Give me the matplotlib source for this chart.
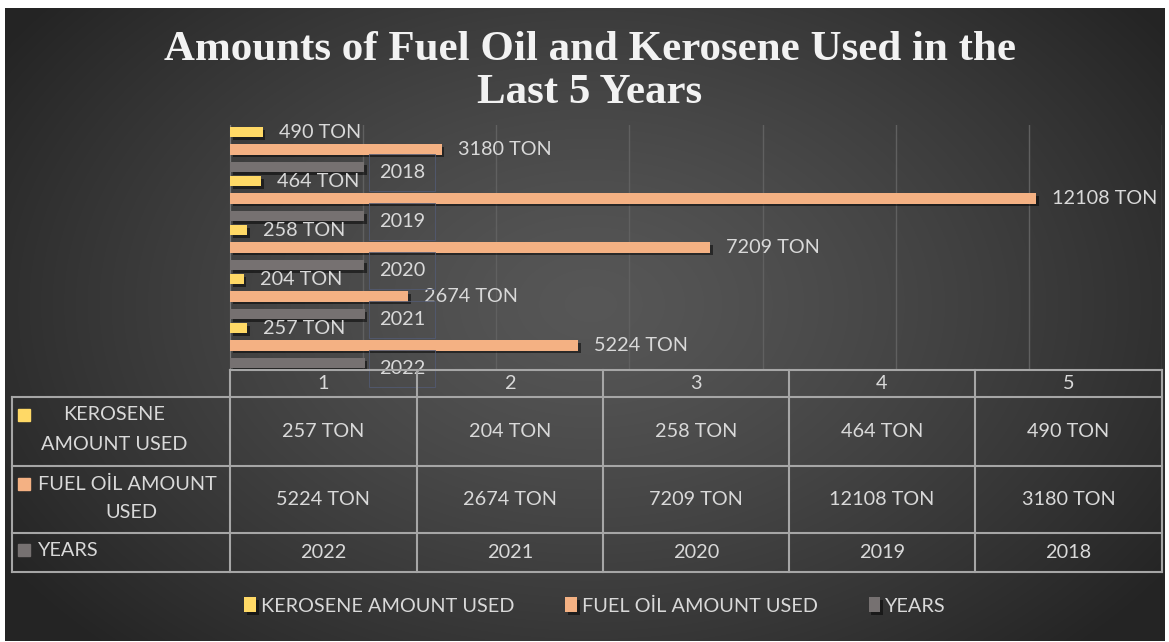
import numpy as np
import matplotlib
matplotlib.use("Agg")
from matplotlib import pyplot as plt
from matplotlib import patheffects as pe
from matplotlib.patches import Rectangle

# data (category 1 at the bottom)
categories = ["1", "2", "3", "4", "5"]
kerosene = [257, 204, 258, 464, 490]
fuel_oil = [5224, 2674, 7209, 12108, 3180]
years = [2022, 2021, 2020, 2019, 2018]
series_names = ["KEROSENE AMOUNT USED", "FUEL OİL AMOUNT USED", "YEARS"]

c_ker = "#FFD966"
c_fuel = "#F4B183"
c_year = "#767171"
txt = "#D9D9D9"
body_font = "Lato"
fs = 14.3

W, H = 1169, 642
fig = plt.figure(figsize=(W / 100, H / 100), dpi=100)
fig.patch.set_facecolor("white")

# background with radial gradient
bg = fig.add_axes([0, 0, 1, 1])
bg.set_xlim(0, W)
bg.set_ylim(H, 0)
bg.axis("off")
yy, xx = np.mgrid[0:H, 0:W]
d = np.sqrt(((xx - 590) / 700.0) ** 2 + ((yy - 300) / 480.0) ** 2)
d = np.clip(d, 0, 1)
shade = 0.34 - 0.195 * d ** 1.3
img = np.dstack([shade, shade, shade])
bg.imshow(img, extent=[5, 1165, 641, 8], aspect="auto", zorder=0)

# bar chart area
L, R, T, B = 230, 1162, 125, 370
ax = fig.add_axes([L / W, 1 - B / H, (R - L) / W, (B - T) / H])
ax.set_facecolor("none")
y = np.arange(len(categories))
off = 0.357
hgt = 0.21
shadow = [pe.SimplePatchShadow(offset=(2, -2), shadow_rgbFace="black", alpha=0.5), pe.Normal()]
b1 = ax.barh(y + off, kerosene, height=hgt, color=c_ker, zorder=3)
b2 = ax.barh(y, fuel_oil, height=hgt, color=c_fuel, zorder=3)
b3 = ax.barh(y - off, years, height=hgt, color=c_year, zorder=3)
for bars in (b1, b2, b3):
    for p in bars:
        p.set_path_effects(shadow)

ax.set_xlim(0, 14000)
ax.set_ylim(-0.5, len(categories) - 0.5)
ax.set_xticks(np.arange(0, 14001, 2000))
ax.set_yticks([])
ax.tick_params(axis="x", length=0, labelbottom=False)
ax.grid(axis="x", color="#606060", lw=1, zorder=0)
for s in ["top", "right", "bottom"]:
    ax.spines[s].set_visible(False)
ax.spines["left"].set_color("#7a7a7a")

for i in range(len(categories)):
    ax.annotate(f"{kerosene[i]} TON", (kerosene[i], y[i] + off), xytext=(11.5, 0),
                textcoords="offset points", va="center", ha="left",
                color=txt, fontsize=fs, family=body_font, zorder=5)
    ax.annotate(f"{fuel_oil[i]} TON", (fuel_oil[i], y[i]), xytext=(11.5, 0),
                textcoords="offset points", va="center", ha="left",
                color=txt, fontsize=fs, family=body_font, zorder=5)
    ax.annotate(f"{years[i]}", (years[i], y[i] - off), xytext=(27, -4),
                textcoords="offset points", va="center", ha="center",
                color=txt, fontsize=fs, family=body_font, zorder=5,
                bbox=dict(boxstyle="square,pad=0.5", fc="none", ec="#525a72", lw=0.6))

# title
fig.text(590 / W, 1 - 50 / H, "Amounts of Fuel Oil and Kerosene Used in the",
         ha="center", va="center", color="#F2F2F2", fontsize=31,
         family="Liberation Serif", weight="bold")
fig.text(590 / W, 1 - 93 / H, "Last 5 Years",
         ha="center", va="center", color="#F2F2F2", fontsize=31,
         family="Liberation Serif", weight="bold")

# data table (pixel layout)
ov = fig.add_axes([0, 0, 1, 1])
ov.set_xlim(0, W)
ov.set_ylim(H, 0)
ov.axis("off")
col_x = [230, 417, 603, 789, 975, 1162]
row_y = [370, 397, 466, 533, 572]
lc = "#A6A6A6"
lw = 1.5
ov.plot([col_x[0], col_x[-1]], [row_y[0], row_y[0]], color=lc, lw=lw)
for ry in row_y[1:]:
    ov.plot([12, col_x[-1]], [ry, ry], color=lc, lw=lw)
ov.plot([12, 12], [row_y[1], row_y[-1]], color=lc, lw=lw)
for cx in col_x:
    ov.plot([cx, cx], [row_y[0], row_y[-1]], color=lc, lw=lw)

rows = [[f"{v} TON" for v in kerosene], [f"{v} TON" for v in fuel_oil], [str(v) for v in years]]
for j, cat in enumerate(categories):
    cx = (col_x[j] + col_x[j + 1]) / 2
    ov.text(cx, (row_y[0] + row_y[1]) / 2, cat, ha="center", va="center",
            color=txt, fontsize=fs, family=body_font)
    for r in range(3):
        ov.text(cx, (row_y[r + 1] + row_y[r + 2]) / 2, rows[r][j], ha="center",
                va="center", color=txt, fontsize=fs, family=body_font)

# row headers
for (sx, sy), col in zip([(18, 409), (18, 478), (18, 544)], [c_ker, c_fuel, c_year]):
    ov.add_patch(Rectangle((sx, sy), 12, 12, color=col))
ov.text(114, 414, "KEROSENE", ha="center", va="center", color=txt, fontsize=fs, family=body_font)
ov.text(114, 445, "AMOUNT USED", ha="center", va="center", color=txt, fontsize=fs, family=body_font)
ov.text(38, 484, "FUEL OİL AMOUNT", ha="left", va="center", color=txt, fontsize=fs, family=body_font)
ov.text(131, 512, "USED", ha="center", va="center", color=txt, fontsize=fs, family=body_font)
ov.text(38, 550, "YEARS", ha="left", va="center", color=txt, fontsize=fs, family=body_font)

# legend
leg = fig.legend([b1, b2, b3], series_names, loc="center", bbox_to_anchor=(595 / W, 1 - 606 / H),
                 ncol=3, frameon=False, handlelength=0.6, handleheight=0.8, handletextpad=0.25,
                 columnspacing=2.55, prop=dict(family=body_font, size=fs))
for t in leg.get_texts():
    t.set_color(txt)

fig.savefig("out.png", dpi=100)
